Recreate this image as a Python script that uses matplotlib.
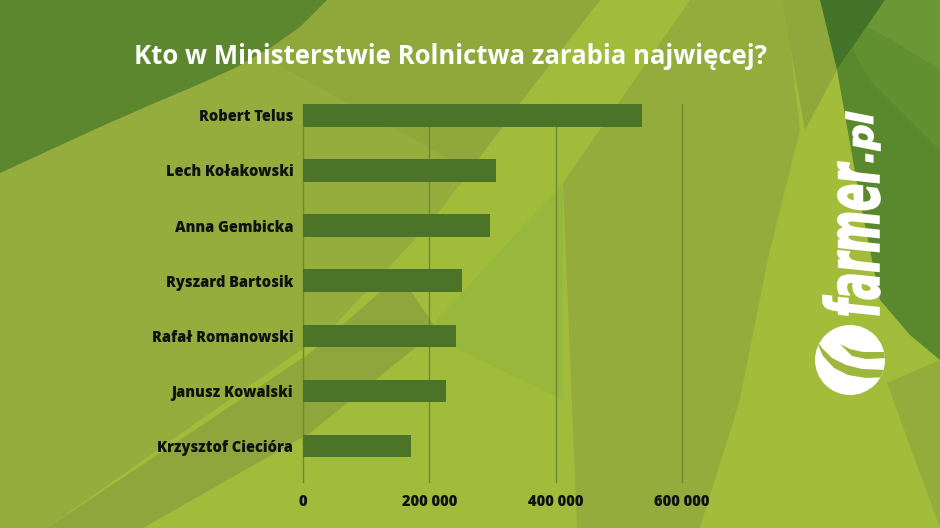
import matplotlib as mpl
mpl.use('Agg')
import matplotlib.pyplot as plt
from matplotlib.patches import Polygon, Circle, PathPatch
from matplotlib.textpath import TextPath
from matplotlib.font_manager import FontProperties
from matplotlib.transforms import Affine2D
from matplotlib.ticker import FuncFormatter

names = ['Robert Telus', 'Lech Kołakowski', 'Anna Gembicka', 'Ryszard Bartosik',
         'Rafał Romanowski', 'Janusz Kowalski', 'Krzysztof Ciecióra']
salaries = [536000, 305000, 296000, 252000, 243000, 226000, 171000]
xticks = [0, 200000, 400000, 600000]
title = 'Kto w Ministerstwie Rolnictwa zarabia najwięcej?'

W, H = 940, 528
fig = plt.figure(figsize=(W / 100, H / 100), dpi=100)

# background drawn in pixel coordinates (y measured from the top)
bg = fig.add_axes([0, 0, 1, 1])
bg.set_xlim(0, W)
bg.set_ylim(0, H)
bg.axis('off')


def pts(p):
    return [(x, H - y) for x, y in p]


def shape(p, color, alpha=1.0):
    patch = Polygon(pts(p), closed=True, facecolor=color, edgecolor='none', alpha=alpha)
    bg.add_patch(patch)
    return patch


shape([(0, 0), (W, 0), (W, H), (0, H)], '#a1bb3a')
# left olive part
shape([(0, 0), (600, 0), (530, 90), (433, 220), (330, 330), (200, 420), (47, 528), (0, 528)], '#95ad3c')
# darker band in the lower left
shape([(47, 528), (180, 440), (310, 353), (400, 275), (437, 330), (310, 433), (143, 528)], '#8ea63b')
# olive wedge at the top, left of the bright stripe
shape([(330, 0), (600, 0), (530, 90), (470, 170), (360, 110), (260, 55)], '#8fa73b')
# top-left dark blob
shape([(0, 0), (327, 0), (300, 27), (270, 48), (235, 68), (195, 86), (150, 105),
       (100, 127), (50, 150), (0, 173)], '#5d872f')
# central olive part
shape([(690, 0), (785, 0), (800, 130), (770, 250), (740, 400), (700, 528), (577, 528), (563, 183)], '#93ac3c')
# saturated lime spot
shape([(563, 183), (563, 400), (425, 333)], '#8cb53f', 0.45)
# right side
shape([(837, 70), (877, 300), (887, 383), (940, 520), (940, 528), (700, 528), (740, 400), (770, 250), (805, 130)], '#a3bd3a')
shape([(887, 383), (940, 360), (940, 528)], '#93ac3c')
shape([(782, 0), (820, 0), (837, 70), (805, 130)], '#8fa83b')
shape([(885, 0), (940, 0), (940, 360), (910, 335), (880, 300), (860, 200), (837, 70)], '#5a892d')
shape([(885, 0), (940, 0), (940, 150), (900, 110), (870, 80), (850, 45)], '#6a9734', 0.5)
shape([(880, 0), (940, 0), (940, 70), (900, 45), (865, 25)], '#74a038', 0.5)
shape([(820, 0), (885, 0), (837, 70)], '#44742a')

# logo
fp = FontProperties(family='DejaVu Sans', weight='bold', style='oblique')


def logo_text(s, x_right, y_bottom, length, height):
    path = TextPath((0, 0), s, size=50, prop=fp)
    ext = path.get_extents()
    tr = (Affine2D().translate(-ext.x0, -ext.y0)
          .scale(length / ext.width, height / ext.height)
          .rotate_deg(90).translate(x_right, H - y_bottom))
    bg.add_patch(PathPatch(tr.transform_path(path), facecolor='white', edgecolor='white', lw=1.2))


logo_text('farmer', 880, 315, 153, 57)
logo_text('.pl', 880, 162, 50, 34)
disc = Circle((850, H - 360), 35, facecolor='white', edgecolor='none')
bg.add_patch(disc)
leaf1 = shape([(815, 338), (822, 348), (832, 358), (846, 365), (862, 369), (888, 370),
               (888, 377), (866, 378), (848, 375), (834, 368), (823, 356)], '#9cb73b')
leaf2 = shape([(840, 344), (850, 349), (863, 352), (888, 352),
               (888, 358), (866, 359), (852, 356)], '#9cb73b')
leaf1.set_clip_path(disc)
leaf2.set_clip_path(disc)

# chart
ax = fig.add_axes([303 / W, 1 - 482 / H, (682 - 303) / W, (482 - 104) / H])
ax.patch.set_visible(False)
ax.barh(range(len(names)), salaries, height=0.41, color='#4b7428', zorder=3)
ax.set_xlim(0, 600000)
ax.set_ylim(6.65, -0.205)
ax.set_xticks(xticks)
ax.xaxis.set_major_formatter(FuncFormatter(lambda v, p: '{:,}'.format(int(v)).replace(',', ' ')))
ax.set_yticks(range(len(names)))
ax.set_yticklabels(names)
ax.xaxis.grid(True, color='#6e8a30', lw=1, zorder=0)
for line in ax.get_xgridlines():
    line.set_clip_on(False)
for s in ax.spines.values():
    s.set_visible(False)
ax.tick_params(length=0)
ax.tick_params(axis='y', pad=7)
ax.tick_params(axis='x', pad=9)
for lab in ax.get_xticklabels() + ax.get_yticklabels():
    lab.set_fontfamily('Open Sans')
    lab.set_fontweight(800)
    lab.set_fontsize(10.5)
    lab.set_color('#111111')

fig.text(450 / W, 1 - 56 / H, title, ha='center', va='center', color='white',
         fontsize=18.5, fontweight='bold', fontfamily='Open Sans')

plt.savefig('out.png', dpi=100)
